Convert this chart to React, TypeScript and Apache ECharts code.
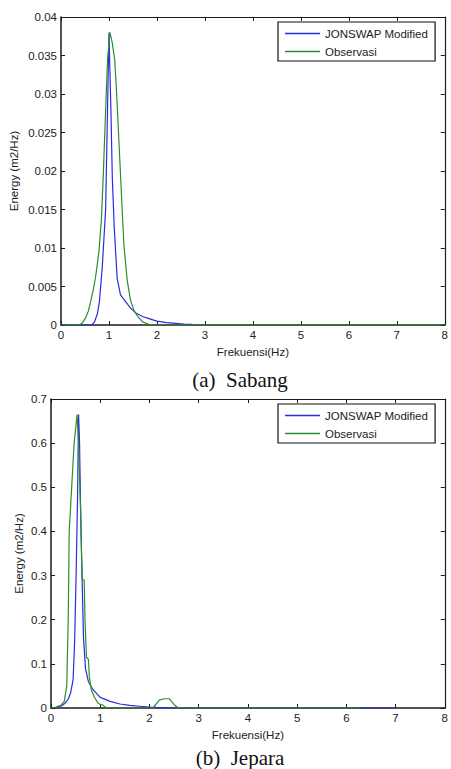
import React, { useEffect, useRef } from "react";
import * as echarts from "echarts";

const seriesNames = ["JONSWAP Modified", "Observasi"];
const captions = ["(a)  Sabang", "(b)  Jepara"];
const xLabelName = "Frekuensi(Hz)";
const yLabelName = "Energy (m2/Hz)";

// Sabang
const sabangJonswapF = [0, 0.64, 0.7, 0.76, 0.8, 0.86, 0.93, 0.97, 1.0, 1.04, 1.07, 1.11, 1.17, 1.24, 1.35, 1.45, 1.55, 1.7, 1.85, 2.0, 2.2, 2.4, 2.6, 2.74];
const sabangJonswapE = [0, 0, 0.0004, 0.0015, 0.003, 0.0075, 0.015, 0.028, 0.038, 0.028, 0.019, 0.0126, 0.0061, 0.0039, 0.003, 0.0022, 0.0016, 0.0011, 0.0008, 0.0005, 0.0003, 0.0002, 0.0001, 0.0001];
const sabangObsF = [0, 0.38, 0.45, 0.51, 0.57, 0.62, 0.67, 0.72, 0.79, 0.84, 0.88, 0.93, 0.97, 1.02, 1.07, 1.12, 1.16, 1.21, 1.26, 1.31, 1.38, 1.45, 1.52, 1.6, 1.7, 1.83, 2.0, 8];
const sabangObsE = [0, 0, 0.0003, 0.0009, 0.0018, 0.0031, 0.0045, 0.0062, 0.0095, 0.0135, 0.0192, 0.0279, 0.0344, 0.038, 0.0366, 0.0344, 0.03, 0.0235, 0.017, 0.0105, 0.0058, 0.0032, 0.0019, 0.0011, 0.0004, 0.0001, 0, 0];

// Jepara
const jeparaJonswapF = [0, 0.1, 0.2, 0.28, 0.35, 0.4, 0.45, 0.48, 0.51, 0.54, 0.56, 0.58, 0.6, 0.63, 0.66, 0.7, 0.76, 0.85, 1.0, 1.2, 1.4, 1.6, 1.8, 2.0, 2.2, 2.4, 3, 7];
const jeparaJonswapE = [0, 0.001, 0.004, 0.01, 0.02, 0.035, 0.065, 0.15, 0.3, 0.48, 0.665, 0.6, 0.46, 0.3, 0.16, 0.09, 0.06, 0.042, 0.024, 0.015, 0.009, 0.006, 0.004, 0.002, 0.001, 0, 0, 0];
const jeparaObsF = [0, 0.1, 0.2, 0.27, 0.32, 0.35, 0.37, 0.42, 0.47, 0.53, 0.56, 0.6, 0.63, 0.645, 0.675, 0.69, 0.72, 0.76, 0.78, 0.82, 0.88, 0.95, 1.0, 1.05, 1.1, 1.15, 2.07, 2.2, 2.3, 2.4, 2.5, 2.58, 6.25];
const jeparaObsE = [0, 0.002, 0.006, 0.015, 0.05, 0.2, 0.4, 0.5, 0.6, 0.665, 0.6, 0.45, 0.3, 0.29, 0.29, 0.2, 0.115, 0.11, 0.07, 0.04, 0.025, 0.012, 0.008, 0.007, 0.002, 0, 0, 0.018, 0.021, 0.021, 0.008, 0, 0];

const xMin = 0, xMax = 8, xInterval = 1;
const sabangYMax = 0.04, sabangYInterval = 0.005;
const jeparaYMax = 0.7, jeparaYInterval = 0.1;

const BLUE = "#2b2be0";
const GREEN = "#2a8f2a";
const AXIS = "#1a1a1a";
const FONT = '"Liberation Sans", Arial, sans-serif';
const FS = 11.5;

const zip = (f: number[], e: number[]) => f.map((v, i) => [v, e[i]]);

export default function App() {
  const ref = useRef<HTMLDivElement>(null);
  useEffect(() => {
    if (!ref.current) return;
    const chart = echarts.init(ref.current, null, { renderer: "svg" });

    const grids = [
      { left: 55, top: 17, width: 390, height: 308 },
      { left: 51, top: 399, width: 394, height: 309 },
    ];
    const yMaxes = [sabangYMax, jeparaYMax];
    const yIntervals = [sabangYInterval, jeparaYInterval];
    const yNameGaps = [41, 26];

    const xAxes: any[] = [];
    const yAxes: any[] = [];
    grids.forEach((_, g) => {
      xAxes.push({
        type: "value", gridIndex: g, min: xMin, max: xMax, interval: xInterval,
        position: "bottom",
        name: xLabelName, nameLocation: "middle", nameGap: 21,
        nameMoveOverlap: false,
        nameTextStyle: { fontFamily: FONT, fontSize: FS, color: "#222" },
        axisLine: { show: true, onZero: false, lineStyle: { color: AXIS, width: 1.5 } },
        axisTick: { show: true, inside: true, length: 4, lineStyle: { color: AXIS } },
        axisLabel: { fontFamily: FONT, fontSize: FS, color: "#222", margin: 4 },
        splitLine: { show: false },
      });
      xAxes.push({
        type: "value", gridIndex: g, min: xMin, max: xMax, interval: xInterval,
        position: "top",
        axisLine: { show: true, onZero: false, lineStyle: { color: AXIS, width: 1.2 } },
        axisTick: { show: true, inside: true, length: 4, lineStyle: { color: AXIS } },
        axisLabel: { show: false },
        splitLine: { show: false },
      });
      yAxes.push({
        type: "value", gridIndex: g, min: 0, max: yMaxes[g], interval: yIntervals[g],
        position: "left",
        name: yLabelName, nameLocation: "middle", nameGap: yNameGaps[g],
        nameMoveOverlap: false,
        nameTextStyle: { fontFamily: FONT, fontSize: FS, color: "#222" },
        axisLine: { show: true, onZero: false, lineStyle: { color: AXIS, width: 1.5 } },
        axisTick: { show: true, inside: true, length: 4, lineStyle: { color: AXIS } },
        axisLabel: { fontFamily: FONT, fontSize: FS, color: "#222", margin: 4 },
        splitLine: { show: false },
      });
      yAxes.push({
        type: "value", gridIndex: g, min: 0, max: yMaxes[g], interval: yIntervals[g],
        position: "right",
        axisLine: { show: true, onZero: false, lineStyle: { color: AXIS, width: 1.2 } },
        axisTick: { show: true, inside: true, length: 4, lineStyle: { color: AXIS } },
        axisLabel: { show: false },
        splitLine: { show: false },
      });
    });

    const data = [
      [zip(sabangJonswapF, sabangJonswapE), zip(sabangObsF, sabangObsE)],
      [zip(jeparaJonswapF, jeparaJonswapE), zip(jeparaObsF, jeparaObsE)],
    ];
    const colors = [BLUE, GREEN];
    const series: any[] = [];
    data.forEach((pair, g) => {
      pair.forEach((d, s) => {
        series.push({
          type: "line", name: seriesNames[s], data: d,
          xAxisIndex: g * 2, yAxisIndex: g * 2,
          symbol: "none", smooth: false,
          lineStyle: { color: colors[s], width: 1.2 },
          itemStyle: { color: colors[s] },
          z: 2 + s,
        });
      });
    });

    const legends = grids.map((gr) => ({
      orient: "vertical",
      left: 278, top: gr.top + 5,
      data: seriesNames,
      icon: "rect",
      itemWidth: 35, itemHeight: 1.5, itemGap: 5,
      padding: [5, 7, 3, 7],
      borderColor: "#111", borderWidth: 1.2,
      backgroundColor: "#fff",
      selectedMode: false,
      textStyle: { fontFamily: FONT, fontSize: FS, lineHeight: 13, color: "#222" },
    }));

    chart.setOption({
      animation: false,
      backgroundColor: "#fff",
      grid: grids.map((g) => ({ ...g, containLabel: false })),
      xAxis: xAxes,
      yAxis: yAxes,
      legend: legends,
      series,
      graphic: [
        {
          type: "text", x: 240, y: 380,
          style: { text: captions[0], font: '21px "Liberation Serif", "Times New Roman", serif', fill: "#111", align: "center", verticalAlign: "middle", textAlign: "center", textVerticalAlign: "middle" },
        },
        {
          type: "text", x: 240, y: 758,
          style: { text: captions[1], font: '21px "Liberation Serif", "Times New Roman", serif', fill: "#111", align: "center", verticalAlign: "middle", textAlign: "center", textVerticalAlign: "middle" },
        },
      ],
    });
    return () => chart.dispose();
  }, []);
  return (
    <div
      ref={ref}
      style={{ position: "fixed", left: 0, top: 0, width: 451, height: 769, background: "#fff" }}
    />
  );
}
